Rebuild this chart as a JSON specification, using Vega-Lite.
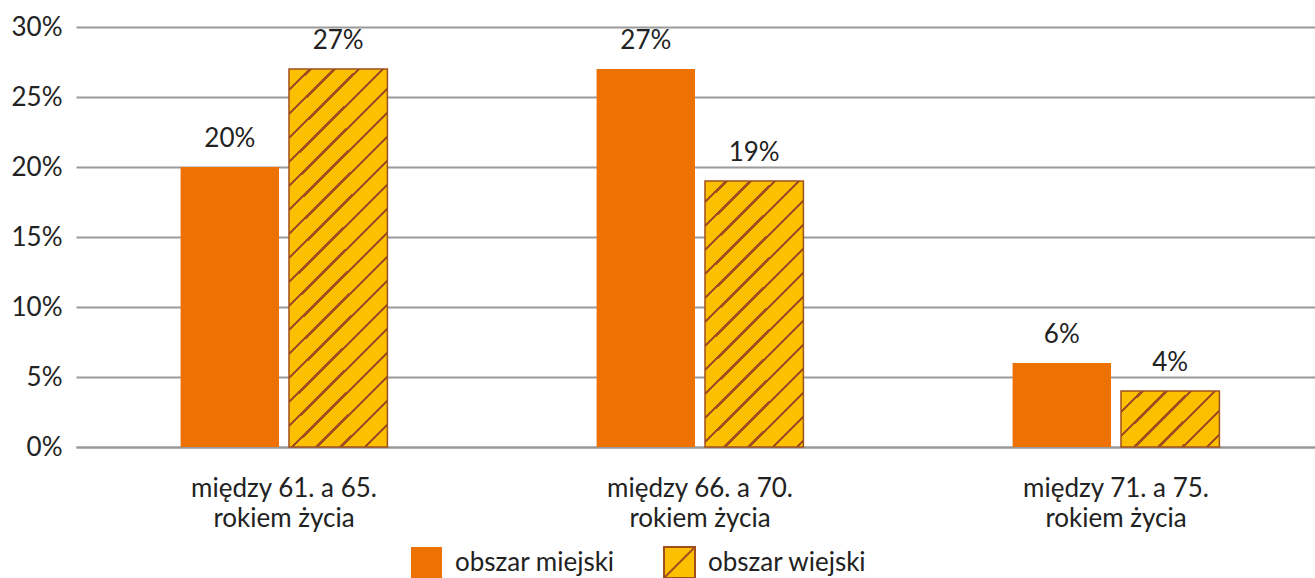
{
  "$schema": "https://vega.github.io/schema/vega-lite/v6.json",
  "width": 1239,
  "height": 420,
  "autosize": {"type": "none"},
  "padding": {"left": 76, "top": 27, "right": 0, "bottom": 131},
  "background": "white",
  "config": {
    "view": {"stroke": null},
    "font": "Lato",
    "text": {"font": "Lato"}
  },
  "data": {
    "values": [
      {"age": "między 61. a 65. rokiem życia", "series": "obszar miejski", "value": 0.20},
      {"age": "między 61. a 65. rokiem życia", "series": "obszar wiejski", "value": 0.27},
      {"age": "między 66. a 70. rokiem życia", "series": "obszar miejski", "value": 0.27},
      {"age": "między 66. a 70. rokiem życia", "series": "obszar wiejski", "value": 0.19},
      {"age": "między 71. a 75. rokiem życia", "series": "obszar miejski", "value": 0.06},
      {"age": "między 71. a 75. rokiem życia", "series": "obszar wiejski", "value": 0.04}
    ]
  },
  "encoding": {
    "x": {
      "field": "age",
      "type": "nominal",
      "sort": null,
      "scale": {"range": [0, 1248], "paddingInner": 0, "paddingOuter": 0},
      "axis": {
        "title": null,
        "labelAngle": 0,
        "ticks": false,
        "domainColor": "#999999",
        "domainWidth": 2,
        "labelFontSize": 26,
        "labelColor": "#222222",
        "labelPadding": 28,
        "labelLineHeight": 30,
        "labelLimit": 400,
        "labelExpr": "[replace(datum.label, ' rokiem życia', ''), 'rokiem życia']",
        "grid": false
      }
    },
    "xOffset": {
      "field": "series",
      "type": "nominal",
      "scale": {"paddingInner": 0.092, "paddingOuter": 0.965}
    },
    "y": {
      "field": "value",
      "type": "quantitative",
      "scale": {"domain": [0, 0.3], "nice": false},
      "axis": {
        "title": null,
        "format": ".0%",
        "values": [0, 0.05, 0.1, 0.15, 0.2, 0.25, 0.3],
        "domain": false,
        "ticks": false,
        "labelFontSize": 26,
        "labelColor": "#222222",
        "labelPadding": 14,
        "gridColor": "#9a9a9a",
        "gridWidth": 2
      }
    }
  },
  "layer": [
    {
      "mark": {"type": "bar"},
      "encoding": {
        "color": {
          "field": "series",
          "type": "nominal",
          "scale": {"domain": ["obszar miejski", "obszar wiejski"], "range": ["#EE7203", "#FCC000"]},
          "legend": {
            "title": null,
            "orient": "none",
            "direction": "horizontal",
            "legendX": 334,
            "legendY": 519,
            "labelFontSize": 26,
            "labelColor": "#222222",
            "labelLimit": 400,
            "symbolSize": 961,
            "symbolType": "square",
            "symbolOpacity": 1,
            "labelOffset": 12,
            "columnPadding": 45,
            "encode": {
              "symbols": {
                "update": {
                  "shape": {"signal": "datum.value === 'obszar wiejski' ? 'M-1,-1H1V1H-1Z M-1,1L1,-1' : 'square'"},
                  "stroke": {"signal": "datum.value === 'obszar wiejski' ? '#A0501E' : 'transparent'"},
                  "strokeWidth": {"value": 2}
                }
              }
            }
          }
        }
      }
    },
    {
      "transform": [{"filter": "datum.series === 'obszar wiejski'"}],
      "mark": {"type": "bar", "stroke": "#A0501E", "strokeWidth": 1.5},
      "encoding": {
        "fill": {
          "condition": [
            {
              "test": "datum.age === 'między 61. a 65. rokiem życia'",
              "value": {
                "gradient": "linear", "x1": 0, "y1": 0, "x2": 0.3059, "y2": 1.1800,
                "stops": [
                  {"offset": 0, "color": "#FCC000"},
                  {"offset": 0.0415, "color": "#FCC000"}, {"offset": 0.0415, "color": "#A0501E"}, {"offset": 0.0482, "color": "#A0501E"}, {"offset": 0.0482, "color": "#FCC000"},
                  {"offset": 0.0919, "color": "#FCC000"}, {"offset": 0.0919, "color": "#A0501E"}, {"offset": 0.0986, "color": "#A0501E"}, {"offset": 0.0986, "color": "#FCC000"},
                  {"offset": 0.1423, "color": "#FCC000"}, {"offset": 0.1423, "color": "#A0501E"}, {"offset": 0.1490, "color": "#A0501E"}, {"offset": 0.1490, "color": "#FCC000"},
                  {"offset": 0.1928, "color": "#FCC000"}, {"offset": 0.1928, "color": "#A0501E"}, {"offset": 0.1995, "color": "#A0501E"}, {"offset": 0.1995, "color": "#FCC000"},
                  {"offset": 0.2432, "color": "#FCC000"}, {"offset": 0.2432, "color": "#A0501E"}, {"offset": 0.2499, "color": "#A0501E"}, {"offset": 0.2499, "color": "#FCC000"},
                  {"offset": 0.2936, "color": "#FCC000"}, {"offset": 0.2936, "color": "#A0501E"}, {"offset": 0.3003, "color": "#A0501E"}, {"offset": 0.3003, "color": "#FCC000"},
                  {"offset": 0.3440, "color": "#FCC000"}, {"offset": 0.3440, "color": "#A0501E"}, {"offset": 0.3507, "color": "#A0501E"}, {"offset": 0.3507, "color": "#FCC000"},
                  {"offset": 0.3944, "color": "#FCC000"}, {"offset": 0.3944, "color": "#A0501E"}, {"offset": 0.4011, "color": "#A0501E"}, {"offset": 0.4011, "color": "#FCC000"},
                  {"offset": 0.4449, "color": "#FCC000"}, {"offset": 0.4449, "color": "#A0501E"}, {"offset": 0.4516, "color": "#A0501E"}, {"offset": 0.4516, "color": "#FCC000"},
                  {"offset": 0.4953, "color": "#FCC000"}, {"offset": 0.4953, "color": "#A0501E"}, {"offset": 0.5020, "color": "#A0501E"}, {"offset": 0.5020, "color": "#FCC000"},
                  {"offset": 0.5457, "color": "#FCC000"}, {"offset": 0.5457, "color": "#A0501E"}, {"offset": 0.5524, "color": "#A0501E"}, {"offset": 0.5524, "color": "#FCC000"},
                  {"offset": 0.5961, "color": "#FCC000"}, {"offset": 0.5961, "color": "#A0501E"}, {"offset": 0.6028, "color": "#A0501E"}, {"offset": 0.6028, "color": "#FCC000"},
                  {"offset": 0.6465, "color": "#FCC000"}, {"offset": 0.6465, "color": "#A0501E"}, {"offset": 0.6532, "color": "#A0501E"}, {"offset": 0.6532, "color": "#FCC000"},
                  {"offset": 0.6970, "color": "#FCC000"}, {"offset": 0.6970, "color": "#A0501E"}, {"offset": 0.7037, "color": "#A0501E"}, {"offset": 0.7037, "color": "#FCC000"},
                  {"offset": 0.7474, "color": "#FCC000"}, {"offset": 0.7474, "color": "#A0501E"}, {"offset": 0.7541, "color": "#A0501E"}, {"offset": 0.7541, "color": "#FCC000"},
                  {"offset": 0.7978, "color": "#FCC000"}, {"offset": 0.7978, "color": "#A0501E"}, {"offset": 0.8045, "color": "#A0501E"}, {"offset": 0.8045, "color": "#FCC000"},
                  {"offset": 0.8482, "color": "#FCC000"}, {"offset": 0.8482, "color": "#A0501E"}, {"offset": 0.8549, "color": "#A0501E"}, {"offset": 0.8549, "color": "#FCC000"},
                  {"offset": 0.8986, "color": "#FCC000"}, {"offset": 0.8986, "color": "#A0501E"}, {"offset": 0.9053, "color": "#A0501E"}, {"offset": 0.9053, "color": "#FCC000"},
                  {"offset": 0.9491, "color": "#FCC000"}, {"offset": 0.9491, "color": "#A0501E"}, {"offset": 0.9558, "color": "#A0501E"}, {"offset": 0.9558, "color": "#FCC000"},
                  {"offset": 1, "color": "#FCC000"}
                ]
              }
            },
            {
              "test": "datum.age === 'między 66. a 70. rokiem życia'",
              "value": {
                "gradient": "linear", "x1": 0, "y1": 0, "x2": 0.4439, "y2": 1.2049,
                "stops": [
                  {"offset": 0, "color": "#FCC000"},
                  {"offset": 0.0543, "color": "#FCC000"}, {"offset": 0.0543, "color": "#A0501E"}, {"offset": 0.0631, "color": "#A0501E"}, {"offset": 0.0631, "color": "#FCC000"},
                  {"offset": 0.1202, "color": "#FCC000"}, {"offset": 0.1202, "color": "#A0501E"}, {"offset": 0.1290, "color": "#A0501E"}, {"offset": 0.1290, "color": "#FCC000"},
                  {"offset": 0.1861, "color": "#FCC000"}, {"offset": 0.1861, "color": "#A0501E"}, {"offset": 0.1949, "color": "#A0501E"}, {"offset": 0.1949, "color": "#FCC000"},
                  {"offset": 0.2521, "color": "#FCC000"}, {"offset": 0.2521, "color": "#A0501E"}, {"offset": 0.2609, "color": "#A0501E"}, {"offset": 0.2609, "color": "#FCC000"},
                  {"offset": 0.3180, "color": "#FCC000"}, {"offset": 0.3180, "color": "#A0501E"}, {"offset": 0.3268, "color": "#A0501E"}, {"offset": 0.3268, "color": "#FCC000"},
                  {"offset": 0.3839, "color": "#FCC000"}, {"offset": 0.3839, "color": "#A0501E"}, {"offset": 0.3927, "color": "#A0501E"}, {"offset": 0.3927, "color": "#FCC000"},
                  {"offset": 0.4499, "color": "#FCC000"}, {"offset": 0.4499, "color": "#A0501E"}, {"offset": 0.4587, "color": "#A0501E"}, {"offset": 0.4587, "color": "#FCC000"},
                  {"offset": 0.5158, "color": "#FCC000"}, {"offset": 0.5158, "color": "#A0501E"}, {"offset": 0.5246, "color": "#A0501E"}, {"offset": 0.5246, "color": "#FCC000"},
                  {"offset": 0.5817, "color": "#FCC000"}, {"offset": 0.5817, "color": "#A0501E"}, {"offset": 0.5905, "color": "#A0501E"}, {"offset": 0.5905, "color": "#FCC000"},
                  {"offset": 0.6477, "color": "#FCC000"}, {"offset": 0.6477, "color": "#A0501E"}, {"offset": 0.6565, "color": "#A0501E"}, {"offset": 0.6565, "color": "#FCC000"},
                  {"offset": 0.7136, "color": "#FCC000"}, {"offset": 0.7136, "color": "#A0501E"}, {"offset": 0.7224, "color": "#A0501E"}, {"offset": 0.7224, "color": "#FCC000"},
                  {"offset": 0.7795, "color": "#FCC000"}, {"offset": 0.7795, "color": "#A0501E"}, {"offset": 0.7883, "color": "#A0501E"}, {"offset": 0.7883, "color": "#FCC000"},
                  {"offset": 0.8455, "color": "#FCC000"}, {"offset": 0.8455, "color": "#A0501E"}, {"offset": 0.8543, "color": "#A0501E"}, {"offset": 0.8543, "color": "#FCC000"},
                  {"offset": 0.9114, "color": "#FCC000"}, {"offset": 0.9114, "color": "#A0501E"}, {"offset": 0.9202, "color": "#A0501E"}, {"offset": 0.9202, "color": "#FCC000"},
                  {"offset": 0.9773, "color": "#FCC000"}, {"offset": 0.9773, "color": "#A0501E"}, {"offset": 0.9861, "color": "#A0501E"}, {"offset": 0.9861, "color": "#FCC000"},
                  {"offset": 1, "color": "#FCC000"}
                ]
              }
            }
          ],
          "value": {
            "gradient": "linear", "x1": 0, "y1": 0, "x2": 1.1846, "y2": 0.6769,
            "stops": [
              {"offset": 0, "color": "#FCC000"},
              {"offset": 0.1282, "color": "#FCC000"}, {"offset": 0.1282, "color": "#A0501E"}, {"offset": 0.1490, "color": "#A0501E"}, {"offset": 0.1490, "color": "#FCC000"},
              {"offset": 0.2841, "color": "#FCC000"}, {"offset": 0.2841, "color": "#A0501E"}, {"offset": 0.3049, "color": "#A0501E"}, {"offset": 0.3049, "color": "#FCC000"},
              {"offset": 0.4399, "color": "#FCC000"}, {"offset": 0.4399, "color": "#A0501E"}, {"offset": 0.4607, "color": "#A0501E"}, {"offset": 0.4607, "color": "#FCC000"},
              {"offset": 0.5958, "color": "#FCC000"}, {"offset": 0.5958, "color": "#A0501E"}, {"offset": 0.6166, "color": "#A0501E"}, {"offset": 0.6166, "color": "#FCC000"},
              {"offset": 0.7516, "color": "#FCC000"}, {"offset": 0.7516, "color": "#A0501E"}, {"offset": 0.7724, "color": "#A0501E"}, {"offset": 0.7724, "color": "#FCC000"},
              {"offset": 0.9075, "color": "#FCC000"}, {"offset": 0.9075, "color": "#A0501E"}, {"offset": 0.9283, "color": "#A0501E"}, {"offset": 0.9283, "color": "#FCC000"},
              {"offset": 1, "color": "#FCC000"}
            ]
          }
        }
      }
    },
    {
      "mark": {"type": "text", "baseline": "middle", "dy": -28, "fontSize": 26, "color": "#222222"},
      "encoding": {
        "text": {"field": "value", "type": "quantitative", "format": ".0%"}
      }
    }
  ]
}
